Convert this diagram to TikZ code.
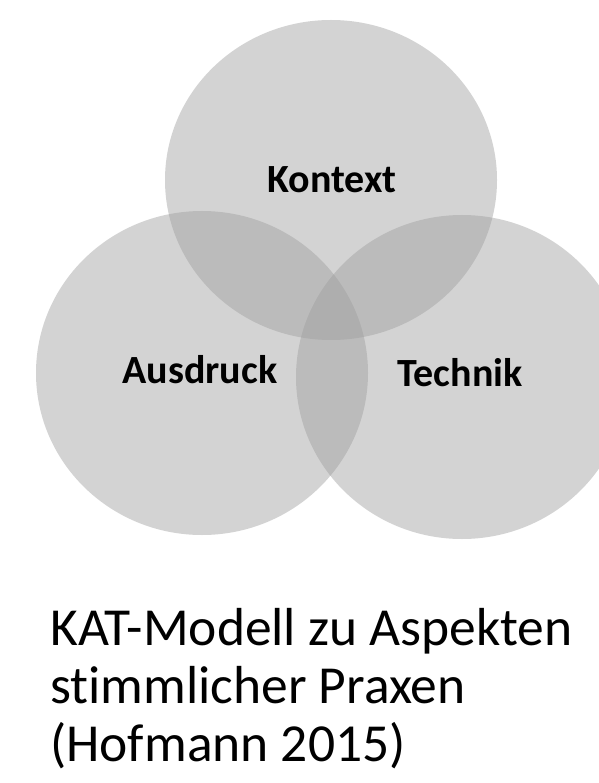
\documentclass[tikz,border=0pt]{standalone}
\usepackage{fontspec}
\setmainfont[Ligatures=CommonOff]{Carlito}
\begin{document}
\begin{tikzpicture}[x=1pt,y=-1pt,
  petal/.style={fill={rgb,255:red,158;green,158;blue,158},fill opacity=0.455,draw=none},
  tag/.style={font=\bfseries\fontsize{40}{48}\selectfont,text=black,inner sep=0pt},
  caption/.style={font=\fontsize{53.5}{58}\selectfont,text=black,inner sep=0pt,anchor=base west}]
  \useasboundingbox (0,0) rectangle (598,783);
  % three overlapping aspects
  \fill[petal] (331,180) ellipse [x radius=166,y radius=160];
  \fill[petal] (202,373) ellipse [x radius=166,y radius=162];
  \fill[petal] (462,377) ellipse [x radius=166,y radius=162];
  \node[tag] (kontext) at (332,180) {Kontext};
  \node[tag] (ausdruck) at (200,370) {Ausdruck};
  \node[tag] (technik) at (460,373) {Technik};
  % caption
  \node[caption] (cap1) at (50,645) {KAT-Modell zu Aspekten};
  \node[caption] (cap2) at (50,703) {stimmlicher Praxen};
  \node[caption] (cap3) at (50,761) {(Hofmann 2015)};
\end{tikzpicture}
\end{document}
